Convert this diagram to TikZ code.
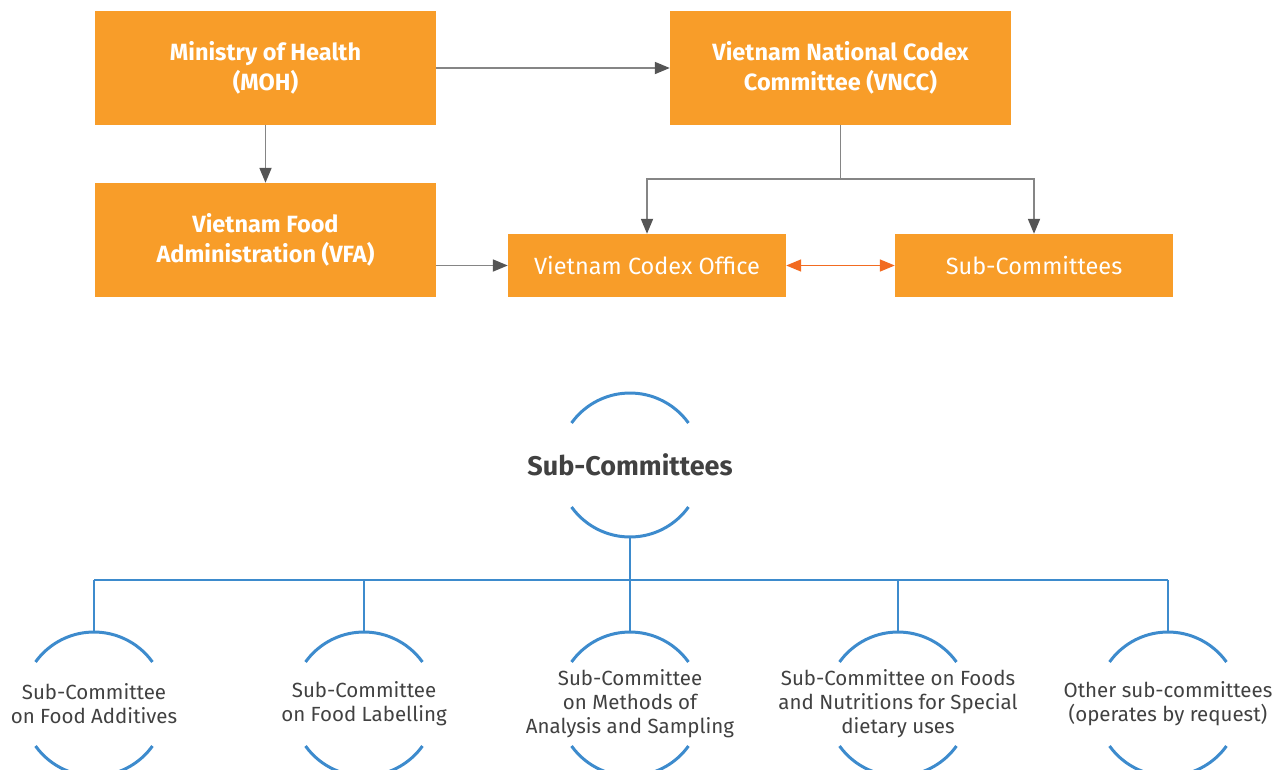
\documentclass[tikz,border=0pt]{standalone}
\usepackage{fontspec}
\setmainfont{Fira Sans}
\usetikzlibrary{arrows.meta}
\usetikzlibrary{calc}

\definecolor{boxorange}{HTML}{F89D29}
\definecolor{linkorange}{HTML}{F26B21}
\definecolor{linkgray}{HTML}{858585}
\definecolor{tipgray}{HTML}{555555}
\definecolor{ringblue}{HTML}{3D8BCD}
\definecolor{labelgray}{HTML}{414141}

\tikzset{
    orgbox/.style={fill=boxorange,text=white,inner sep=0pt,align=center,
        minimum width=341pt,minimum height=114pt,
        font=\bfseries\fontsize{23.5}{30}\selectfont},
    unitbox/.style={fill=boxorange,text=white,inner sep=0pt,align=center,
        minimum width=278pt,minimum height=63pt,
        font=\fontsize{23.5}{30}\selectfont},
    grayarrow/.style={draw=linkgray,line width=1.8pt,
        -{Triangle[length=15pt,width=12pt,color=tipgray]}},
    orangearrow/.style={draw=linkorange,line width=1.6pt,
        {Triangle[length=15pt,width=12pt]}-{Triangle[length=15pt,width=12pt]}},
    ring/.style={draw=ringblue,line width=3pt},
    wire/.style={draw=ringblue,line width=2.4pt},
    ringlabel/.style={text=labelgray,align=center,inner sep=0pt,
        font=\fontsize{20.5}{24}\selectfont}
}

\begin{document}
\begin{tikzpicture}[x=1pt,y=1pt]
	\useasboundingbox (0,0) rectangle (1285,-769);

	% upper chart
	\node[orgbox] (moh) at (265.5,-68) {Ministry of Health\\(MOH)};
	\node[orgbox] (vncc) at (840.5,-68) {Vietnam National Codex\\Committee (VNCC)};
	\node[orgbox] (vfa) at (265.5,-240) {Vietnam Food\\Administration (VFA)};
	\node[unitbox] (office) at (647,-265.5) {Vietnam Codex Office};
	\node[unitbox] (subs) at (1034,-265.5) {Sub-Committees};

	\draw[grayarrow] (moh) -- (vncc);
	\draw[grayarrow] (moh) -- (vfa);
	\draw[grayarrow] (vfa.east |- office.west) -- (office.west);
	\coordinate (split) at ($(vncc.south)+(0,-54)$);
	\draw[linkgray,line width=1.8pt] (vncc.south) -- (split);
	\draw[grayarrow] (split) -| (office.north);
	\draw[grayarrow] (split) -| (subs.north);
	\draw[orangearrow] (office.east) -- (subs.west);

	% lower chart
	\node[text=labelgray,inner sep=0pt,font=\bfseries\fontsize{27}{30}\selectfont]
		(hub) at (630,-465) {Sub-Committees};
	\draw[ring] ($(hub.center)+(35.7:72pt)$) arc[start angle=35.7,end angle=144.3,radius=72pt];
	\draw[ring] ($(hub.center)+(215.7:72pt)$) arc[start angle=215.7,end angle=324.3,radius=72pt];
	\coordinate (hubfoot) at ($(hub.center)+(0,-72)$);
	\coordinate (bus) at (630,-580);
	\draw[wire] (hubfoot) -- (bus);

	\foreach \i/\cx/\txt in {1/94/{Sub-Committee\\on Food Additives},
		2/364/{Sub-Committee\\on Food Labelling},
		3/630/{Sub-Committee\\on Methods of\\Analysis and Sampling},
		4/898/{Sub-Committee on Foods\\and Nutritions for Special\\dietary uses},
		5/1168/{Other sub-committees\\(operates by request)}} {
		\node[ringlabel] (sc\i) at (\cx,-704) {\txt};
		\coordinate (top\i) at ($(sc\i.center)+(0,72)$);
		\draw[ring] ($(sc\i.center)+(35.7:72pt)$) arc[start angle=35.7,end angle=144.3,radius=72pt];
		\draw[ring] ($(sc\i.center)+(215.7:72pt)$) arc[start angle=215.7,end angle=324.3,radius=72pt];
		\draw[wire] (top\i |- bus) -- (top\i);
	}
	\draw[wire] (top1 |- bus) -- (top5 |- bus);
\end{tikzpicture}
\end{document}
